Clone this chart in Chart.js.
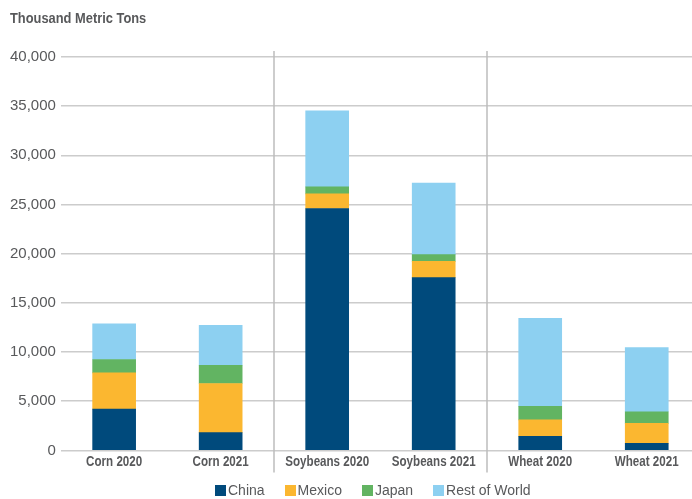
<!DOCTYPE html>
<html>
<head>
<meta charset="utf-8">
<script src="https://cdn.jsdelivr.net/npm/chart.js@4"></script>
<style>
  html, body { margin: 0; padding: 0; background: #fff; overflow: hidden; width: 692px; height: 499px; }
  #wrap { position: relative; width: 700px; height: 499px; }
  #title { position: absolute; left: 10px; top: 9px; font: bold 15.5px "Liberation Sans", sans-serif; color: #58595b; transform: scaleX(0.83); transform-origin: left top; white-space: nowrap; }
  #legend { position: absolute; left: 215px; top: 482px; font: 14px "Liberation Sans", sans-serif; color: #58595b; white-space: nowrap; }
  #legend span.item { margin-right: 20px; }
  #legend span.box { display: inline-block; width: 11px; height: 11px; margin-right: 2px; vertical-align: -1px; }
</style>
</head>
<body>
<div id="wrap">
  <canvas id="myChart" width="700" height="499"></canvas>
  <div id="title">Thousand Metric Tons</div>
  <div id="legend"></div>
</div>
<script>
const categories = ['Corn 2020', 'Corn 2021', 'Soybeans 2020', 'Soybeans 2021', 'Wheat 2020', 'Wheat 2021'];
const china = [4190, 1800, 24600, 17560, 1420, 710];
const mexico = [3700, 5000, 1490, 1660, 1690, 2030];
const japan = [1350, 1860, 710, 680, 1360, 1190];
const restOfWorld = [3620, 4060, 7720, 7280, 8960, 6530];
const yTicks = [0, 5000, 10000, 15000, 20000, 25000, 30000, 35000, 40000];

const seriesNames = ['China', 'Mexico', 'Japan', 'Rest of World'];
const seriesColors = ['#004a7c', '#fbb730', '#62b462', '#8dd0f1'];
const seriesData = [china, mexico, japan, restOfWorld];

// vertical lines between the crop groups + narrow bold category labels
const extras = {
  id: 'extras',
  afterDraw(chart) {
    const x = chart.scales.x, area = chart.chartArea, c = chart.ctx;
    c.save();
    c.strokeStyle = '#bdbdbd';
    c.lineWidth = 1.5;
    [1, 3].forEach(i => {
      const px = Math.round((x.getPixelForValue(i) + x.getPixelForValue(i + 1)) / 2);
      c.beginPath();
      c.moveTo(px, area.top - 6);
      c.lineTo(px, area.bottom + 22);
      c.stroke();
    });
    c.fillStyle = '#58595b';
    c.font = 'bold 14.5px "Liberation Sans", sans-serif';
    c.textAlign = 'center';
    c.textBaseline = 'middle';
    categories.forEach((label, i) => {
      c.save();
      c.translate(x.getPixelForValue(i), area.bottom + 12);
      c.scale(0.8, 1);
      c.fillText(label, 0, 0);
      c.restore();
    });
    c.restore();
  }
};

const ctx = document.getElementById('myChart').getContext('2d');
const myChart = new Chart(ctx, {
  type: 'bar',
  data: {
    labels: categories,
    datasets: seriesNames.map((name, i) => ({
      label: name,
      data: seriesData[i],
      backgroundColor: seriesColors[i],
      barThickness: 43,
      borderWidth: 0
    }))
  },
  options: {
    responsive: false,
    animation: false,
    layout: { padding: { left: 5, top: 57, right: 0, bottom: 23 } },
    plugins: { legend: { display: false }, tooltip: { enabled: false } },
    scales: {
      x: {
        stacked: true,
        grid: { display: false },
        border: { display: false },
        ticks: {
          color: 'rgba(0,0,0,0)',
          padding: 4,
          maxRotation: 0,
          autoSkip: false,
          font: { family: '"Liberation Sans", sans-serif', size: 8 }
        }
      },
      y: {
        stacked: true,
        min: 0,
        max: 40000,
        afterBuildTicks: axis => { axis.ticks = yTicks.map(v => ({ value: v })); },
        grid: { color: '#cccccc', lineWidth: 1.5, drawTicks: false },
        border: { display: false },
        ticks: {
          color: '#58595b',
          padding: 5,
          font: { family: '"Liberation Sans", sans-serif', size: 15 },
          callback: v => v.toLocaleString('en-US')
        }
      }
    }
  },
  plugins: [extras]
});

// legend as html
const legend = document.getElementById('legend');
seriesNames.forEach((name, i) => {
  const item = document.createElement('span');
  item.className = 'item';
  item.innerHTML = '<span class="box" style="background:' + seriesColors[i] + '"></span>' + name;
  legend.appendChild(item);
});
</script>
</body>
</html>
